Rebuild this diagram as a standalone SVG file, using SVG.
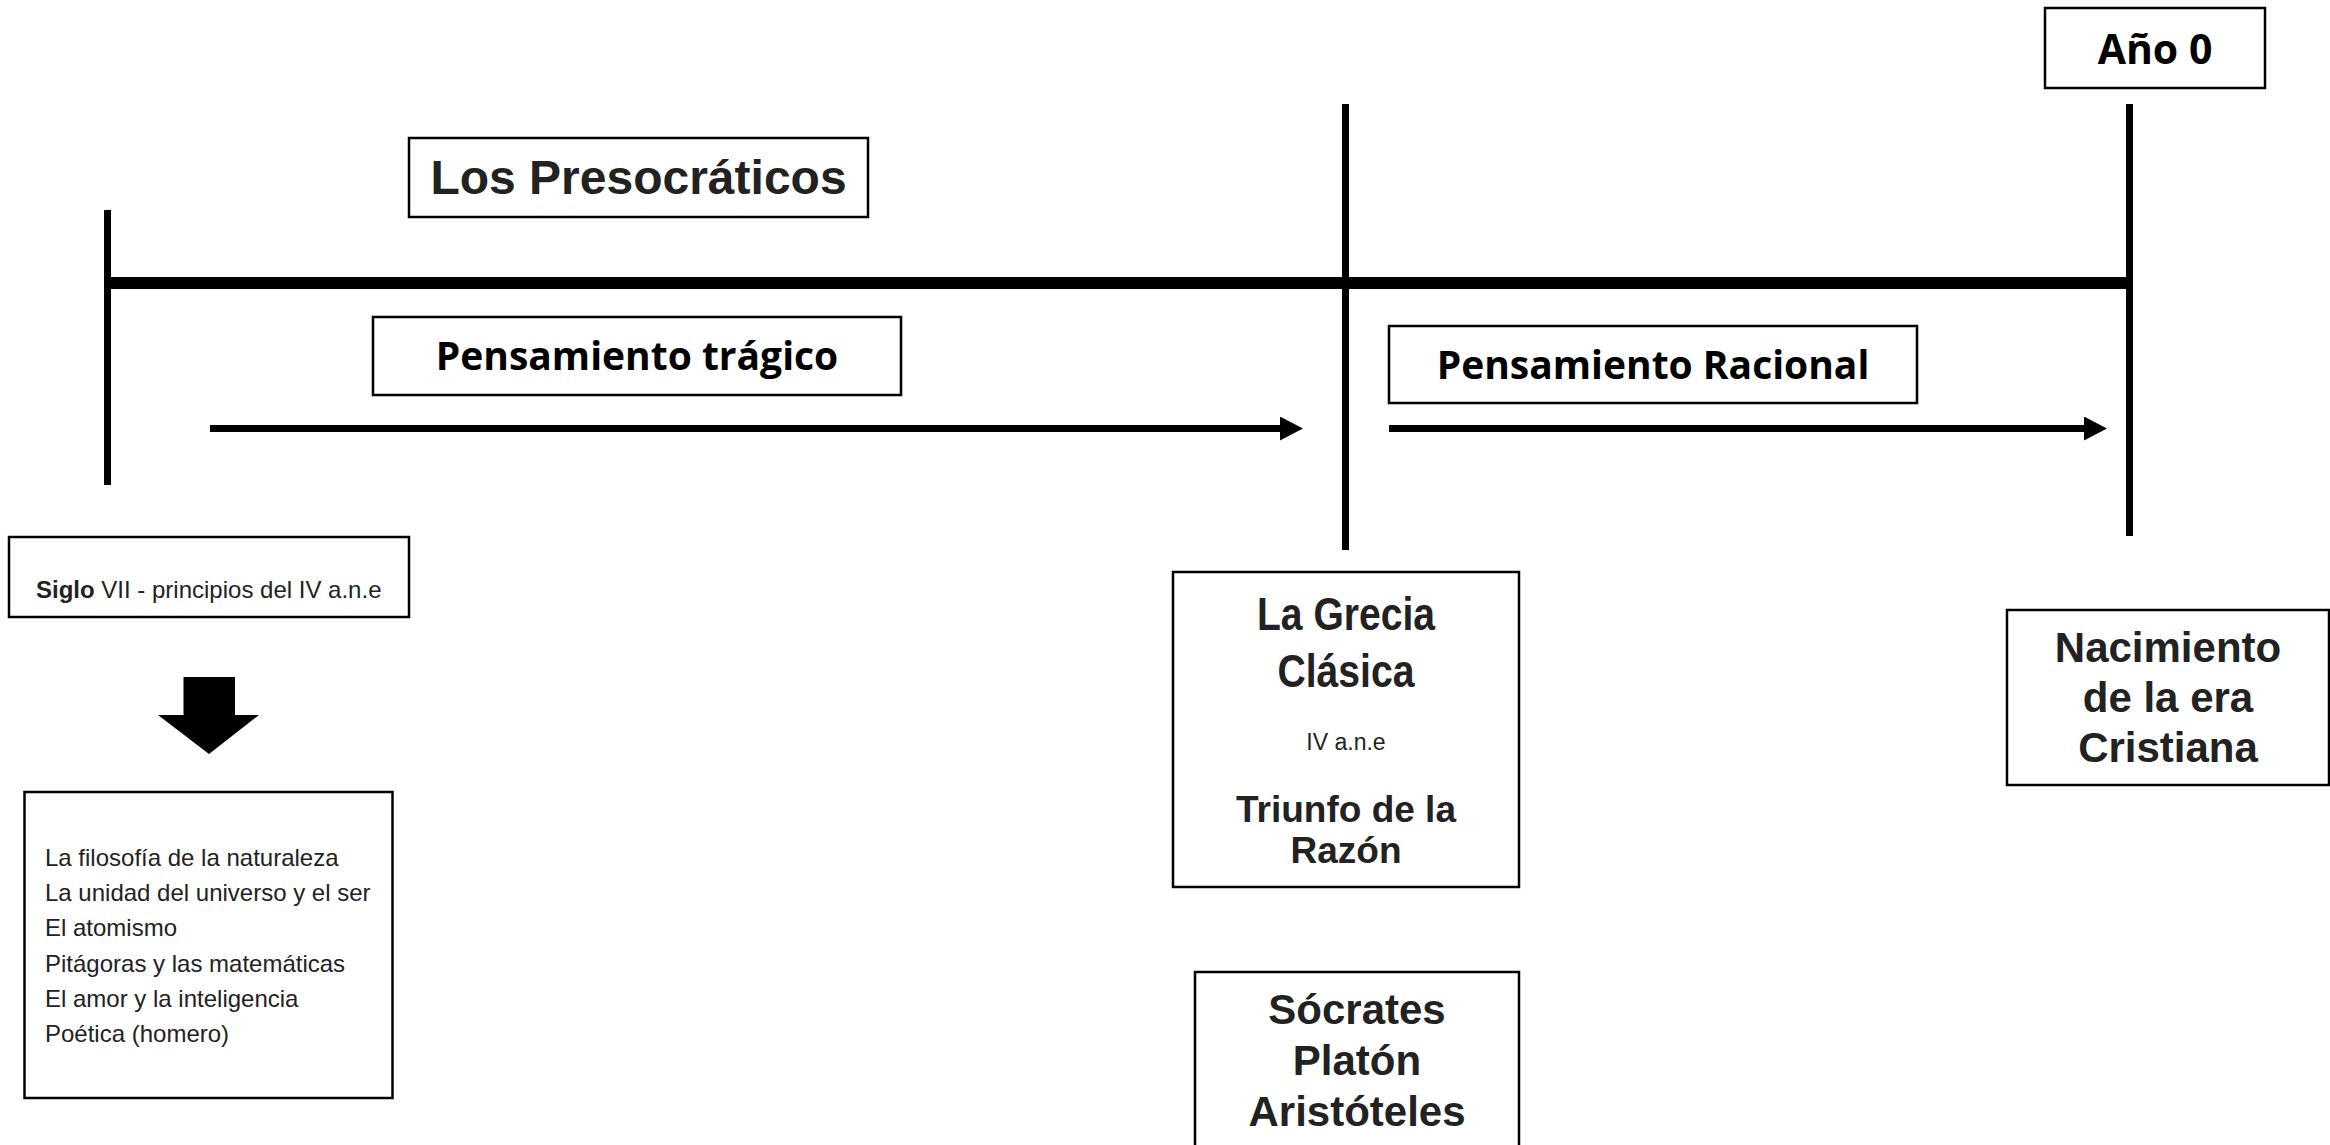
<svg xmlns="http://www.w3.org/2000/svg" width="2330" height="1145" viewBox="0 0 2330 1145">
  <style>
    .box { fill: #ffffff; stroke: #000000; stroke-width: 2.5; }
    .ar { font-family: "Liberation Sans", Arial, sans-serif; fill: #222222; }
    .arb { font-family: "Liberation Sans", Arial, sans-serif; font-weight: bold; fill: #222222; }
    .cal { font-family: "Open Sans", "Liberation Sans", sans-serif; font-weight: bold; fill: #000000; }
    .mid { text-anchor: middle; }
    .bar { stroke: #000000; fill: none; }
  </style>
  <defs>
    <marker id="head" markerUnits="userSpaceOnUse" markerWidth="23" markerHeight="24" refX="0" refY="12" orient="auto">
      <path d="M0,0 L23,12 L0,24 z" fill="#000000"/>
    </marker>
  </defs>
  <rect width="2330" height="1145" fill="#ffffff"/>

  <g id="connectors">
    <line class="bar" x1="107.5" y1="210" x2="107.5" y2="485" stroke-width="7"/>
    <line class="bar" x1="1345.5" y1="104" x2="1345.5" y2="550" stroke-width="7"/>
    <line class="bar" x1="2129.5" y1="104" x2="2129.5" y2="536" stroke-width="7"/>
    <line class="bar" x1="104" y1="283" x2="2133" y2="283" stroke-width="12"/>
    <line class="bar" x1="210" y1="428.5" x2="1280" y2="428.5" stroke-width="7" marker-end="url(#head)"/>
    <line class="bar" x1="1389" y1="428.5" x2="2084" y2="428.5" stroke-width="7" marker-end="url(#head)"/>
    <polygon points="183.5,677 235,677 235,715 259,715 209,754 158,715 183.5,715" fill="#000000"/>
  </g>

  <g id="node-presocraticos">
    <rect class="box" x="409" y="138" width="459" height="79"/>
    <text class="arb mid" x="638.5" y="194" font-size="48">Los Presocráticos</text>
  </g>

  <g id="node-tragico">
    <rect class="box" x="373" y="317" width="528" height="78"/>
    <text class="cal mid" x="637" y="370" font-size="39">Pensamiento trágico</text>
  </g>

  <g id="node-ano0">
    <rect class="box" x="2045" y="8" width="220" height="80"/>
    <text class="cal mid" x="2155" y="64" font-size="41">Año 0</text>
  </g>

  <g id="node-racional">
    <rect class="box" x="1389" y="326" width="528" height="77"/>
    <text class="cal mid" x="1653" y="379" font-size="39">Pensamiento Racional</text>
  </g>

  <g id="node-siglo">
    <rect class="box" x="9" y="537" width="400" height="80"/>
    <text class="ar" x="36" y="598" font-size="24"><tspan font-weight="bold">Siglo</tspan> VII - principios del IV a.n.e</text>
  </g>

  <g id="node-lista">
    <rect class="box" x="24.5" y="792" width="368" height="306"/>
    <text class="ar" font-size="24">
      <tspan x="45" y="866">La filosofía de la naturaleza</tspan>
      <tspan x="45" y="901">La unidad del universo y el ser</tspan>
      <tspan x="45" y="936">El atomismo</tspan>
      <tspan x="45" y="972">Pitágoras y las matemáticas</tspan>
      <tspan x="45" y="1007">El amor y la inteligencia</tspan>
      <tspan x="45" y="1042">Poética (homero)</tspan>
    </text>
  </g>

  <g id="node-grecia">
    <rect class="box" x="1173" y="572" width="346" height="315"/>
    <text class="arb mid" x="1346" y="630" font-size="46" textLength="178" lengthAdjust="spacingAndGlyphs">La Grecia</text>
    <text class="arb mid" x="1346" y="687" font-size="46" textLength="137" lengthAdjust="spacingAndGlyphs">Clásica</text>
    <text class="ar mid" x="1346" y="750" font-size="23">IV a.n.e</text>
    <text class="arb mid" x="1346" y="822" font-size="37">Triunfo de la</text>
    <text class="arb mid" x="1346" y="863" font-size="37">Razón</text>
  </g>

  <g id="node-nacimiento">
    <rect class="box" x="2007" y="610" width="322" height="175"/>
    <text class="arb mid" x="2168" y="662" font-size="42">Nacimiento</text>
    <text class="arb mid" x="2168" y="712" font-size="42">de la era</text>
    <text class="arb mid" x="2168" y="762" font-size="42">Cristiana</text>
  </g>

  <g id="node-filosofos">
    <rect class="box" x="1195" y="972" width="324" height="180"/>
    <text class="arb mid" x="1357" y="1024" font-size="42">Sócrates</text>
    <text class="arb mid" x="1357" y="1075" font-size="42">Platón</text>
    <text class="arb mid" x="1357" y="1126" font-size="42">Aristóteles</text>
  </g>
</svg>
